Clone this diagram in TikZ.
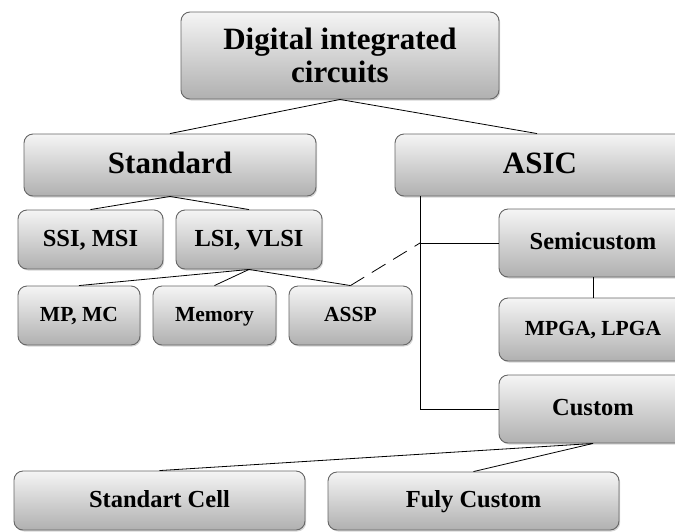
\documentclass[tikz,border=0pt]{standalone}
\usepackage{fontspec}
\setmainfont{Liberation Serif}
\usetikzlibrary{shadows}

\begin{document}
\begin{tikzpicture}[x=1pt,y=-1pt,
  box/.style={rectangle,rounded corners=9pt,draw=gray!80!black,line width=0.9pt,
    top color=gray!8,bottom color=gray!62,align=center,inner sep=0pt,
    drop shadow={shadow xshift=1.2pt,shadow yshift=-1.5pt,fill=gray!40,opacity=0.8}},
  big/.style={box,font=\bfseries\fontsize{31}{33}\selectfont},
  mid/.style={box,font=\bfseries\fontsize{24.5}{26}\selectfont,text height=16.2pt,text depth=2.9pt},
  small/.style={box,font=\bfseries\fontsize{21.5}{23}\selectfont,text height=14.2pt,text depth=2.6pt},
  link/.style={line width=0.8pt}]
\clip (0,0) rectangle (675,531);
\node[big,minimum width=318pt,minimum height=87pt] at (340,55.5) (dic) {Digital integrated\\circuits};
\node[big,text height=20.5pt,text depth=3.7pt,minimum width=292pt,minimum height=62pt] at (170,165) (std) {Standard};
\node[big,text height=20.5pt,text depth=3.7pt,minimum width=290pt,minimum height=62pt] at (540,165) (asic) {ASIC};
\node[mid,minimum width=145pt,minimum height=59pt] at (90.5,239.5) (ssi) {SSI, MSI};
\node[mid,minimum width=146pt,minimum height=59pt] at (249,239.5) (lsi) {LSI, VLSI};
\node[small,minimum width=122pt,minimum height=59pt] at (79,315.5) (mpmc) {MP, MC};
\node[small,minimum width=123pt,minimum height=59pt] at (214.5,315.5) (mem) {Memory};
\node[small,minimum width=123pt,minimum height=59pt] at (350.5,315.5) (assp) {ASSP};
\node[mid,minimum width=188pt,minimum height=68pt] at (593,243) (semi) {Semicustom};
\node[small,minimum width=188pt,minimum height=63pt] at (593,329.5) (mpga) {MPGA, LPGA};
\node[mid,minimum width=188pt,minimum height=68pt] at (593,409) (cust) {Custom};
\node[mid,minimum width=291pt,minimum height=59pt] at (159.5,500.5) (scell) {Standart Cell};
\node[mid,minimum width=291pt,minimum height=58pt] at (473.5,501) (fcust) {Fuly Custom};
\coordinate (trunk) at (420,196);
\coordinate (jn) at (trunk |- semi.west);

\draw[link] (dic.south) -- (std.north);
\draw[link] (dic.south) -- ([xshift=-3pt]asic.north);
\draw[link] (std.south) -- (ssi.north);
\draw[link] (std.south) -- (lsi.north);
\draw[link] (lsi.south) -- (mpmc.north);
\draw[link] (lsi.south) -- (mem.north);
\draw[link] (lsi.south) -- (assp.north);
\draw[link,dash pattern=on 16pt off 9pt] (assp.north) -- (jn);
\draw[link] (trunk) |- (cust.west);
\draw[link] (jn) -- (semi.west);
\draw[link] (semi.south) -- (mpga.north);
\draw[link] (cust.south) -- (scell.north);
\draw[link] (cust.south) -- (fcust.north);
\end{tikzpicture}
\end{document}
